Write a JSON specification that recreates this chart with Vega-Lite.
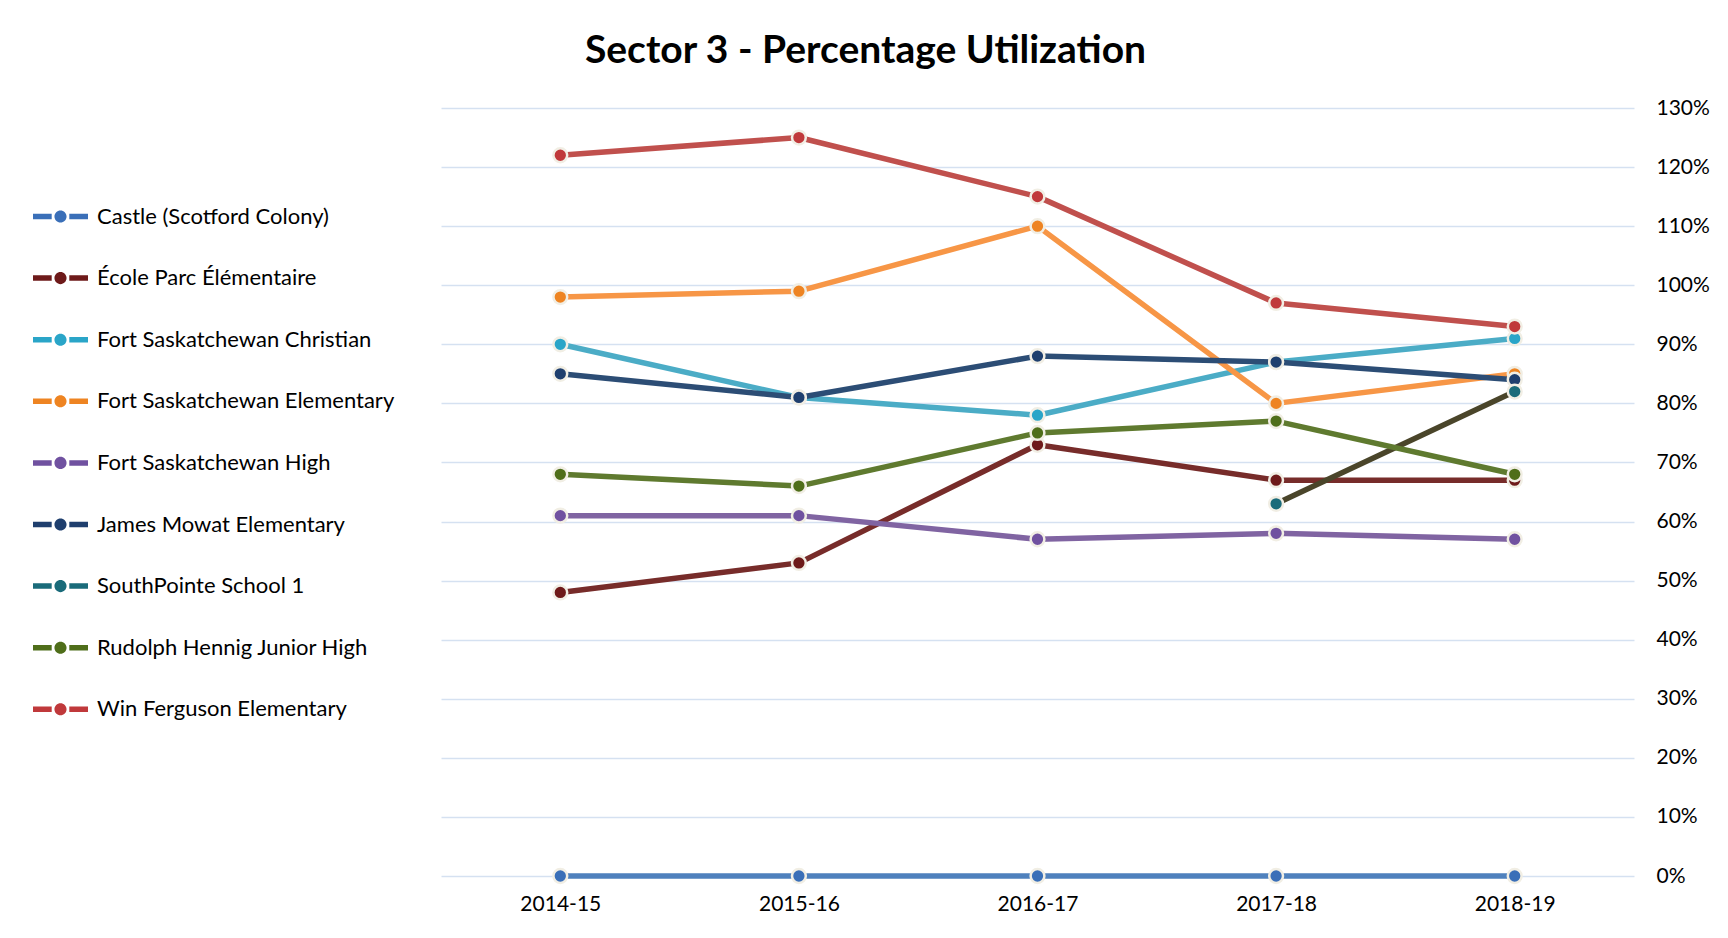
{
  "$schema": "https://vega.github.io/schema/vega-lite/v6.json",
  "width": 1193,
  "height": 768,
  "autosize": {"type": "none"},
  "padding": {"left": 441, "top": 108, "right": 94, "bottom": 62},
  "background": "#ffffff",
  "config": {
    "view": {"stroke": null},
    "font": "Lato",
    "axis": {"labelFont": "Lato", "labelColor": "#000000", "labelFontSize": 21, "domain": false, "ticks": false}
  },
  "title": {
    "text": "Sector 3 - Percentage Utilization",
    "anchor": "middle",
    "dx": -172,
    "offset": 26,
    "fontSize": 39,
    "fontWeight": "bold",
    "font": "Lato",
    "color": "#000000"
  },
  "data": {
    "values": [
      {"school": "Castle (Scotford Colony)", "year": "2014-15", "pct": 0},
      {"school": "Castle (Scotford Colony)", "year": "2015-16", "pct": 0},
      {"school": "Castle (Scotford Colony)", "year": "2016-17", "pct": 0},
      {"school": "Castle (Scotford Colony)", "year": "2017-18", "pct": 0},
      {"school": "Castle (Scotford Colony)", "year": "2018-19", "pct": 0},
      {"school": "École Parc Élémentaire", "year": "2014-15", "pct": 48},
      {"school": "École Parc Élémentaire", "year": "2015-16", "pct": 53},
      {"school": "École Parc Élémentaire", "year": "2016-17", "pct": 73},
      {"school": "École Parc Élémentaire", "year": "2017-18", "pct": 67},
      {"school": "École Parc Élémentaire", "year": "2018-19", "pct": 67},
      {"school": "Fort Saskatchewan Christian", "year": "2014-15", "pct": 90},
      {"school": "Fort Saskatchewan Christian", "year": "2015-16", "pct": 81},
      {"school": "Fort Saskatchewan Christian", "year": "2016-17", "pct": 78},
      {"school": "Fort Saskatchewan Christian", "year": "2017-18", "pct": 87},
      {"school": "Fort Saskatchewan Christian", "year": "2018-19", "pct": 91},
      {"school": "Fort Saskatchewan Elementary", "year": "2014-15", "pct": 98},
      {"school": "Fort Saskatchewan Elementary", "year": "2015-16", "pct": 99},
      {"school": "Fort Saskatchewan Elementary", "year": "2016-17", "pct": 110},
      {"school": "Fort Saskatchewan Elementary", "year": "2017-18", "pct": 80},
      {"school": "Fort Saskatchewan Elementary", "year": "2018-19", "pct": 85},
      {"school": "Fort Saskatchewan High", "year": "2014-15", "pct": 61},
      {"school": "Fort Saskatchewan High", "year": "2015-16", "pct": 61},
      {"school": "Fort Saskatchewan High", "year": "2016-17", "pct": 57},
      {"school": "Fort Saskatchewan High", "year": "2017-18", "pct": 58},
      {"school": "Fort Saskatchewan High", "year": "2018-19", "pct": 57},
      {"school": "James Mowat Elementary", "year": "2014-15", "pct": 85},
      {"school": "James Mowat Elementary", "year": "2015-16", "pct": 81},
      {"school": "James Mowat Elementary", "year": "2016-17", "pct": 88},
      {"school": "James Mowat Elementary", "year": "2017-18", "pct": 87},
      {"school": "James Mowat Elementary", "year": "2018-19", "pct": 84},
      {"school": "\u00a0SouthPointe School 1", "year": "2017-18", "pct": 63},
      {"school": "\u00a0SouthPointe School 1", "year": "2018-19", "pct": 82},
      {"school": "Rudolph Hennig Junior High", "year": "2014-15", "pct": 68},
      {"school": "Rudolph Hennig Junior High", "year": "2015-16", "pct": 66},
      {"school": "Rudolph Hennig Junior High", "year": "2016-17", "pct": 75},
      {"school": "Rudolph Hennig Junior High", "year": "2017-18", "pct": 77},
      {"school": "Rudolph Hennig Junior High", "year": "2018-19", "pct": 68},
      {"school": "Win Ferguson Elementary", "year": "2014-15", "pct": 122},
      {"school": "Win Ferguson Elementary", "year": "2015-16", "pct": 125},
      {"school": "Win Ferguson Elementary", "year": "2016-17", "pct": 115},
      {"school": "Win Ferguson Elementary", "year": "2017-18", "pct": 97},
      {"school": "Win Ferguson Elementary", "year": "2018-19", "pct": 93}
    ]
  },
  "encoding": {
    "x": {
      "field": "year",
      "type": "ordinal",
      "scale": {"type": "point", "padding": 0.5},
      "sort": ["2014-15", "2015-16", "2016-17", "2017-18", "2018-19"],
      "axis": {"title": null, "labelAngle": 0, "labelPadding": 17, "grid": false}
    },
    "y": {
      "field": "pct",
      "type": "quantitative",
      "scale": {"domain": [0, 130], "nice": false, "zero": true},
      "axis": {
        "title": null,
        "orient": "right",
        "values": [0, 10, 20, 30, 40, 50, 60, 70, 80, 90, 100, 110, 120, 130],
        "labelExpr": "datum.value + '%'",
        "labelPadding": 22,
        "labelAlign": "left",
        "grid": true,
        "gridColor": "#d5e1f1",
        "gridWidth": 1.5
      }
    }
  },
  "layer": [
    {
      "mark": {"type": "line", "strokeWidth": 5.5, "strokeCap": "round", "strokeJoin": "round"},
      "encoding": {
        "color": {
          "field": "school",
          "type": "nominal",
          "sort": null,
          "scale": {
            "domain": ["Castle (Scotford Colony)", "École Parc Élémentaire", "Fort Saskatchewan Christian", "Fort Saskatchewan Elementary", "Fort Saskatchewan High", "James Mowat Elementary", "\u00a0SouthPointe School 1", "Rudolph Hennig Junior High", "Win Ferguson Elementary"],
            "range": ["#4f81bd", "#772c2a", "#4bacc6", "#f79646", "#8064a2", "#2c4d75", "#4a452a", "#5f7a2f", "#c0504d"]
          },
          "legend": {
            "title": null,
            "orient": "none",
            "legendX": -408,
            "legendY": 81,
            "symbolType": "M-1,-0.1H-0.32V0.1H-1Z M0.32,-0.1H1V0.1H0.32Z M-0.22,0A0.22,0.22 0 1,0 0.22,0A0.22,0.22 0 1,0 -0.22,0Z",
            "symbolSize": 3025,
            "symbolStrokeWidth": 0,
            "labelFont": "Lato",
            "labelFontSize": 22,
            "labelColor": "#000000",
            "labelOffset": 9,
            "rowPadding": 22.6,
            "labelLimit": 450,
            "encode": {
              "symbols": {
                "update": {
                  "fill": {"scale": "color", "field": "value"},
                  "stroke": {"value": "transparent"},
                  "opacity": {"value": 1}
                }
              }
            }
          }
        }
      }
    },
    {
      "mark": {"type": "point", "filled": true, "size": 190, "stroke": "#f1eee4", "strokeWidth": 2.5, "opacity": 1},
      "encoding": {
        "fill": {
          "field": "school",
          "type": "nominal",
          "sort": null,
          "scale": {
            "domain": ["Castle (Scotford Colony)", "École Parc Élémentaire", "Fort Saskatchewan Christian", "Fort Saskatchewan Elementary", "Fort Saskatchewan High", "James Mowat Elementary", "\u00a0SouthPointe School 1", "Rudolph Hennig Junior High", "Win Ferguson Elementary"],
            "range": ["#3a6fb8", "#6e1a1a", "#2aa5c8", "#ee8422", "#7051a0", "#1f3f6e", "#1a6b7a", "#4f6e1a", "#c0393b"]
          },
          "legend": null
        }
      }
    }
  ]
}
